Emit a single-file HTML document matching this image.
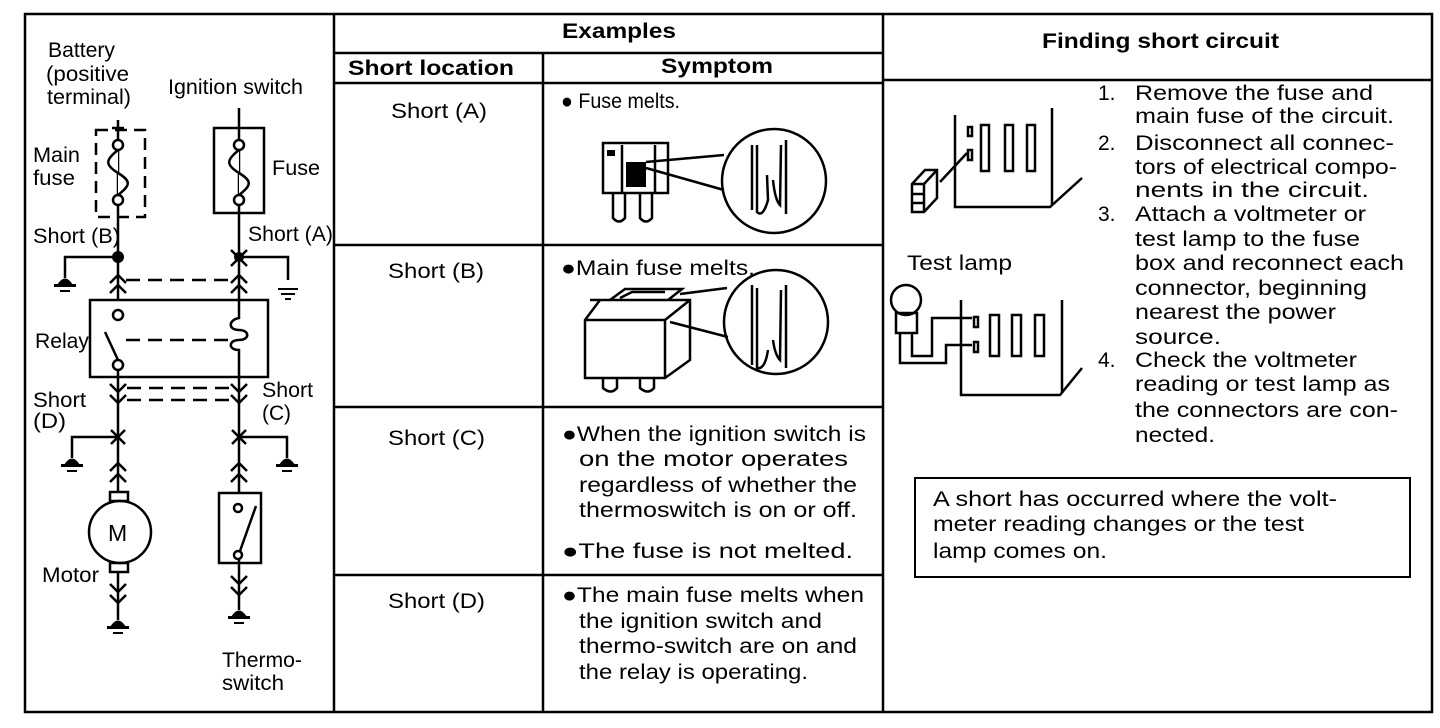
<!DOCTYPE html>
<html><head><meta charset="utf-8"><style>
html,body{margin:0;padding:0;background:#fff;}
svg{display:block;}
text{font-family:"Liberation Sans",Arial,sans-serif;font-size:21px;fill:#000;}
.b{font-weight:bold;}
</style></head><body>
<svg width="1440" height="728" viewBox="0 0 1440 728" xmlns="http://www.w3.org/2000/svg">
<g fill="none" stroke="#000" stroke-width="2.5">
<rect x="25" y="14" width="1407" height="698"/>
<line x1="334" y1="14" x2="334" y2="712"/>
<line x1="883" y1="14" x2="883" y2="712"/>
<line x1="543" y1="53" x2="543" y2="712"/>
<line x1="334" y1="53" x2="883" y2="53"/>
<line x1="334" y1="83" x2="883" y2="83"/>
<line x1="334" y1="245" x2="883" y2="245"/>
<line x1="334" y1="407" x2="883" y2="407"/>
<line x1="334" y1="575" x2="883" y2="575"/>
<line x1="883" y1="80" x2="1432" y2="80"/>
</g>

<g fill="none" stroke="#000" stroke-width="2.5">
<line x1="118" y1="120" x2="118" y2="300"/>
<line x1="112" y1="128" x2="124" y2="128"/>
<rect x="96" y="130" width="49" height="87" stroke-dasharray="12,7"/>
<circle cx="118" cy="145" r="5" fill="#fff"/>
<circle cx="118" cy="200" r="5" fill="#fff"/>
<path d="M118 150 C105 160,105 165,118 173 C131 181,131 185,118 195" fill="#fff"/>
<line x1="239" y1="108" x2="239" y2="300"/>
<rect x="214" y="128" width="50" height="85"/>
<circle cx="239" cy="145" r="5" fill="#fff"/>
<circle cx="239" cy="200" r="5" fill="#fff"/>
<path d="M239 150 C226 160,226 165,239 173 C252 181,252 185,239 195" fill="#fff"/>
<polyline points="118,257 65,257 65,278"/>
<polyline points="239,257 288,257 288,280"/>
<path d="M110 283 L118 275 L126 283 M110 293 L118 285 L126 293"/>
<path d="M231 283 L239 275 L247 283 M231 293 L239 285 L247 293"/>
<path d="M231 266 L247 250 M231 250 L247 266"/>
<line x1="126" y1="280" x2="230" y2="280" stroke-dasharray="14,8"/>
<rect x="90" y="300" width="178" height="77"/>
<circle cx="118" cy="315" r="5" fill="#fff"/>
<line x1="105" y1="332" x2="118" y2="360"/>
<line x1="126" y1="340" x2="228" y2="340" stroke-dasharray="14,8"/>
<path d="M239 300 L239 318 C228 320,228 330,239 330 C250 330,250 340,239 340 C228 340,228 350,239 350 L239 377"/>
<circle cx="118" cy="365" r="5" fill="#fff"/>
<line x1="118" y1="370" x2="118" y2="492"/>
<line x1="239" y1="377" x2="239" y2="493"/>
<path d="M110 384 L118 392 L126 384 M110 395 L118 403 L126 395"/>
<path d="M231 384 L239 392 L247 384 M231 395 L239 403 L247 395"/>
<line x1="127" y1="388" x2="231" y2="388" stroke-dasharray="14,8"/>
<line x1="127" y1="400" x2="231" y2="400" stroke-dasharray="14,8"/>
<path d="M111 430 L125 444 M111 444 L125 430"/>
<path d="M232 430 L246 444 M232 444 L246 430"/>
<polyline points="118,437 72,437 72,458"/>
<polyline points="239,437 287,437 287,458"/>
<path d="M110 471 L118 463 L126 471 M110 482 L118 474 L126 482"/>
<path d="M231 471 L239 463 L247 471 M231 482 L239 474 L247 482"/>
<rect x="110" y="492" width="18" height="9"/>
<circle cx="120" cy="532" r="31"/>
<rect x="110" y="563" width="18" height="9"/>
<line x1="118" y1="572" x2="118" y2="620"/>
<path d="M110 584 L118 592 L126 584 M110 595 L118 603 L126 595"/>
<rect x="219" y="493" width="42" height="70"/>
<circle cx="238" cy="508" r="4"/>
<circle cx="238" cy="555" r="4"/>
<line x1="256" y1="506" x2="240" y2="551"/>
<line x1="239" y1="559" x2="239" y2="610"/>
<path d="M231 576 L239 584 L247 576 M231 587 L239 595 L247 587"/>
</g>
<g fill="#000">
<circle cx="118" cy="257" r="6"/>
<circle cx="239" cy="257" r="5"/>
<path d="M57 285 Q65 272 73 285 Z"/><rect x="54" y="284" width="22" height="3"/><rect x="60" y="290" width="10" height="2"/>
<path d="M278 288 L298 288 L298 290 L278 290 Z M281 293 L295 293 L295 295 L281 295Z M285 298 L291 298 L291 300 L285 300Z"/>
<path d="M64 465 Q72 452 80 465 Z"/><rect x="61" y="464" width="22" height="3"/><rect x="67" y="470" width="10" height="2"/>
<path d="M279 465 Q287 452 295 465 Z"/><rect x="276" y="464" width="22" height="3"/><rect x="282" y="470" width="10" height="2"/>
<path d="M110 627 Q118 614 126 627 Z"/><rect x="107" y="626" width="22" height="3"/><rect x="113" y="632" width="10" height="2"/>
<path d="M231 617 Q239 604 247 617 Z"/><rect x="228" y="616" width="22" height="3"/><rect x="234" y="622" width="10" height="2"/>
</g>
<g lengthAdjust="spacingAndGlyphs">
<text x="48" y="57" textLength="67" lengthAdjust="spacingAndGlyphs">Battery</text>
<text x="46" y="81" textLength="83" lengthAdjust="spacingAndGlyphs">(positive</text>
<text x="47" y="104" textLength="84" lengthAdjust="spacingAndGlyphs">terminal)</text>
<text x="168" y="94" textLength="135" lengthAdjust="spacingAndGlyphs">Ignition switch</text>
<text x="33" y="162" textLength="47" lengthAdjust="spacingAndGlyphs">Main</text>
<text x="33" y="185" textLength="42" lengthAdjust="spacingAndGlyphs">fuse</text>
<text x="272" y="175" textLength="48" lengthAdjust="spacingAndGlyphs">Fuse</text>
<text x="33" y="243" textLength="87" lengthAdjust="spacingAndGlyphs">Short (B)</text>
<text x="248" y="241" textLength="85" lengthAdjust="spacingAndGlyphs">Short (A)</text>
<text x="35" y="348" textLength="54" lengthAdjust="spacingAndGlyphs">Relay</text>
<text x="33" y="407" textLength="53" lengthAdjust="spacingAndGlyphs">Short</text>
<text x="33" y="428" textLength="33" lengthAdjust="spacingAndGlyphs">(D)</text>
<text x="262" y="397" textLength="51" lengthAdjust="spacingAndGlyphs">Short</text>
<text x="262" y="420" textLength="29" lengthAdjust="spacingAndGlyphs">(C)</text>
<text x="108" y="541" style="font-size:23px">M</text>
<text x="42" y="582" textLength="57" lengthAdjust="spacingAndGlyphs">Motor</text>
<text x="222" y="667" textLength="80" lengthAdjust="spacingAndGlyphs">Thermo-</text>
<text x="222" y="690" textLength="62" lengthAdjust="spacingAndGlyphs">switch</text>

<text class="b" x="562" y="38" textLength="114" lengthAdjust="spacingAndGlyphs">Examples</text>
<text class="b" x="348" y="75" textLength="166" lengthAdjust="spacingAndGlyphs">Short location</text>
<text class="b" x="661" y="73" textLength="112" lengthAdjust="spacingAndGlyphs">Symptom</text>
<text x="391" y="118" textLength="96" lengthAdjust="spacingAndGlyphs">Short (A)</text>
<text x="388" y="278" textLength="96" lengthAdjust="spacingAndGlyphs">Short (B)</text>
<text x="388" y="445" textLength="97" lengthAdjust="spacingAndGlyphs">Short (C)</text>
<text x="388" y="608" textLength="97" lengthAdjust="spacingAndGlyphs">Short (D)</text>
<text x="561" y="108" textLength="119" lengthAdjust="spacingAndGlyphs">● Fuse melts.</text>
<text x="561" y="275" textLength="194" lengthAdjust="spacingAndGlyphs">●Main fuse melts.</text>
<text x="562" y="441" textLength="304" lengthAdjust="spacingAndGlyphs">●When the ignition switch is</text>
<text x="579" y="466" textLength="269" lengthAdjust="spacingAndGlyphs">on the motor operates</text>
<text x="579" y="492" textLength="278" lengthAdjust="spacingAndGlyphs">regardless of whether the</text>
<text x="579" y="517" textLength="278" lengthAdjust="spacingAndGlyphs">thermoswitch is on or off.</text>
<text x="562" y="558" textLength="291" lengthAdjust="spacingAndGlyphs">●The fuse is not melted.</text>
<text x="562" y="602" textLength="302" lengthAdjust="spacingAndGlyphs">●The main fuse melts when</text>
<text x="579" y="628" textLength="243" lengthAdjust="spacingAndGlyphs">the ignition switch and</text>
<text x="579" y="653" textLength="278" lengthAdjust="spacingAndGlyphs">thermo-switch are on and</text>
<text x="579" y="679" textLength="229" lengthAdjust="spacingAndGlyphs">the relay is operating.</text>
</g>

<g fill="none" stroke="#000" stroke-width="2.5">
<rect x="603" y="143" width="65" height="50"/>
<path d="M613 193 L613 218 Q619 225 625 218 L625 193 M640 193 L640 218 Q646 225 652 218 L652 193"/>
<line x1="622" y1="145" x2="622" y2="192"/>
<line x1="655" y1="145" x2="655" y2="192"/>
<circle cx="774" cy="181" r="52"/>
<path d="M646 162 L724 155 M646 168 L724 190"/>
<path d="M752 145 L752 210 M757 145 L757 212 Q763 218 768 200 L767 175 M786 140 L786 214 M781 145 L780 205 Q775 200 773 180"/>
<path d="M590 300 L690 300 L690 360 L665 378 L585 378 L585 320 L600 300 Z M585 320 L665 320 L690 300 M665 320 L665 378"/>
<path d="M610 300 L625 289 L682 289 L668 300 M620 298 L632 292 L665 292"/>
<path d="M603 378 L603 388 Q611 395 617 388 L617 378 M640 378 L640 388 Q648 395 654 388 L654 378"/>
<circle cx="776" cy="322" r="52"/>
<path d="M680 294 L727 288 M670 322 L728 337"/>
<path d="M752 285 L752 365 M757 288 L757 368 Q765 370 768 350 M786 285 L786 368 M781 290 L780 360 Q775 355 773 340"/>
</g>
<g fill="#000"><rect x="626" y="162" width="20" height="25"/><rect x="607" y="150" width="8" height="6"/></g>

<text class="b" x="1042" y="48" textLength="237" lengthAdjust="spacingAndGlyphs">Finding short circuit</text>
<text x="1098" y="100">1.</text><text x="1135" y="100" textLength="238" lengthAdjust="spacingAndGlyphs">Remove the fuse and</text>
<text x="1135" y="123" textLength="259" lengthAdjust="spacingAndGlyphs">main fuse of the circuit.</text>
<text x="1098" y="150">2.</text><text x="1135" y="150" textLength="259" lengthAdjust="spacingAndGlyphs">Disconnect all connec-</text>
<text x="1135" y="174" textLength="262" lengthAdjust="spacingAndGlyphs">tors of electrical compo-</text>
<text x="1135" y="197" textLength="234" lengthAdjust="spacingAndGlyphs">nents in the circuit.</text>
<text x="1098" y="221">3.</text><text x="1135" y="221" textLength="231" lengthAdjust="spacingAndGlyphs">Attach a voltmeter or</text>
<text x="1135" y="246" textLength="225" lengthAdjust="spacingAndGlyphs">test lamp to the fuse</text>
<text x="1135" y="270" textLength="269" lengthAdjust="spacingAndGlyphs">box and reconnect each</text>
<text x="1135" y="295" textLength="232" lengthAdjust="spacingAndGlyphs">connector, beginning</text>
<text x="1135" y="319" textLength="201" lengthAdjust="spacingAndGlyphs">nearest the power</text>
<text x="1135" y="344" textLength="86" lengthAdjust="spacingAndGlyphs">source.</text>
<text x="1098" y="367">4.</text><text x="1135" y="367" textLength="222" lengthAdjust="spacingAndGlyphs">Check the voltmeter</text>
<text x="1135" y="391" textLength="255" lengthAdjust="spacingAndGlyphs">reading or test lamp as</text>
<text x="1135" y="417" textLength="263" lengthAdjust="spacingAndGlyphs">the connectors are con-</text>
<text x="1135" y="442" textLength="80" lengthAdjust="spacingAndGlyphs">nected.</text>
<text x="907" y="270" textLength="105" lengthAdjust="spacingAndGlyphs">Test lamp</text>
<rect x="915" y="478" width="495" height="99" fill="none" stroke="#000" stroke-width="2"/>
<text x="933" y="506" textLength="404" lengthAdjust="spacingAndGlyphs">A short has occurred where the volt-</text>
<text x="933" y="531" textLength="371" lengthAdjust="spacingAndGlyphs">meter reading changes or the test</text>
<text x="933" y="558" textLength="174" lengthAdjust="spacingAndGlyphs">lamp comes on.</text>

<g fill="none" stroke="#000" stroke-width="2.5">
<polyline points="955,115 955,207 1050,207 1082,178"/>
<line x1="1052" y1="108" x2="1052" y2="205"/>
<rect x="968" y="127" width="4" height="9"/>
<rect x="968" y="150" width="4" height="10"/>
<rect x="981" y="125" width="8" height="46"/>
<rect x="1005" y="125" width="8" height="46"/>
<rect x="1027" y="125" width="8" height="46"/>
<line x1="940" y1="182" x2="967" y2="153"/>
<path d="M912 184 L925 170 L937 170 L937 198 L924 212 L912 212 Z M912 184 L924 184 L937 170 M924 184 L924 212 M912 194 L924 194 M912 203 L924 203"/>
<polyline points="961,300 961,395 1060,395 1082,368"/>
<line x1="1062" y1="300" x2="1062" y2="393"/>
<rect x="974" y="317" width="4" height="10"/>
<rect x="974" y="342" width="4" height="10"/>
<rect x="990" y="315" width="9" height="41"/>
<rect x="1012" y="315" width="9" height="41"/>
<rect x="1035" y="315" width="9" height="41"/>
<circle cx="906" cy="300" r="15"/>
<rect x="896" y="313" width="21" height="20"/>
<polyline points="912,333 912,356 932,356 932,318 972,318"/>
<polyline points="900,333 900,363 946,363 946,345 972,345"/>
</g>
</svg>
</body></html>
